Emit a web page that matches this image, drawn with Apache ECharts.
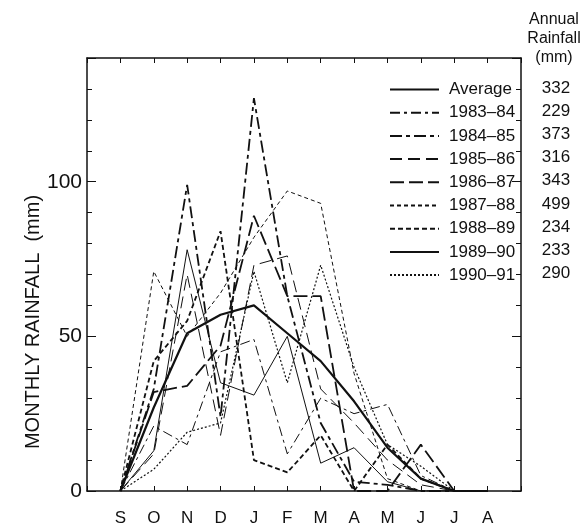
<!DOCTYPE html>
<html>
<head>
<meta charset="utf-8">
<script src="https://cdn.jsdelivr.net/npm/echarts@6/dist/echarts.min.js"></script>
<style>
html,body{margin:0;padding:0;background:#fff;}
#chart{width:587px;height:527px;}
</style>
</head>
<body>
<div id="chart"></div>
<script>
// ---- data ----
var months = ['S','O','N','D','J','F','M','A','M','J','J','A'];
var seriesNames = ['Average','1983\u201384','1984\u201385','1985\u201386','1986\u201387','1987\u201388','1988\u201389','1989\u201390','1990\u201391'];
var annualRainfall = [332, 229, 373, 316, 343, 499, 234, 233, 290];
var average = [0, 27, 51, 57, 60, 51, 42, 29, 14, 4, 0, 0];
var y1983 = [0, 21, 15, 45, 49, 12, 30, 25, 28, 5, 0, 0];
var y1984 = [0, 33, 99, 24, 127, 63, 22, 3, 2, 0, 0, 0];
var y1985 = [0, 12, 70, 18, 73, 76, 33, 22, 10, 2, 0, 0];
var y1986 = [0, 32, 34, 47, 89, 63, 63, 0, 0, 15, 0, 0];
var y1987 = [0, 71, 50, 64, 82, 97, 93, 38, 4, 0, 0, 0];
var y1988 = [0, 42, 55, 84, 10, 6, 18, 0, 15, 4, 0, 0];
var y1989 = [0, 13, 78, 35, 31, 50, 9, 14, 3, 0, 0, 0];
var y1990 = [0, 7, 19, 22, 71, 35, 73, 40, 15, 8, 0, 0];
var yTickLabels = [0, 50, 100];

var allValues = [average, y1983, y1984, y1985, y1986, y1987, y1988, y1989, y1990];
var styles = [
  {type:'solid', width:2.2},
  {type:[10,4,3,4], width:1},
  {type:[12,4,4,4], width:1.8},
  {type:[12,6], width:1},
  {type:[14,5], width:1.8},
  {type:[4,3], width:1},
  {type:[5,3], width:1.8},
  {type:'solid', width:1},
  {type:[2,2], width:1.2}
];

var FONT = '"Liberation Sans", Arial, sans-serif';
var series = allValues.map(function(vals, k){
  return {
    name: seriesNames[k],
    type: 'line',
    symbol: 'none',
    silent: true,
    animation: false,
    lineStyle: {color:'#111', width: styles[k].width, type: styles[k].type},
    itemStyle: {color:'#111'},
    data: vals.map(function(v,i){ return [i+1, v]; })
  };
});

var chart = echarts.init(document.getElementById('chart'), null, {renderer:'canvas'});

var legendTop = 76;
var rowTop = 88;
var rowH = 23.2;
var graphics = [];
graphics.push({
  type:'text', x: 33, y: 322, rotation: Math.PI/2,
  style:{text:'MONTHLY RAINFALL  (mm)', font:'20px '+FONT, fill:'#111', textAlign:'center', textVerticalAlign:'middle'}
});
var headerY = [20, 39, 58];
['Annual','Rainfall','(mm)'].forEach(function(t,i){
  graphics.push({type:'text', x: 554, y: headerY[i],
    style:{text:t, font:'16px '+FONT, fill:'#111', textAlign:'center', textVerticalAlign:'middle'}});
});
annualRainfall.forEach(function(v,i){
  graphics.push({type:'text', x: 556, y: rowTop + i*rowH,
    style:{text:String(v), font:'17px '+FONT, fill:'#111', textAlign:'center', textVerticalAlign:'middle'}});
});

var axisLineStyle = {color:'#111', width:1.5};
function xAx(pos, showLabel){
  return {
    type:'value', min:0, max:13, interval:1, position:pos,
    axisLine:{show:true, onZero:false, lineStyle:axisLineStyle},
    axisTick:{show:true, inside:true, length:5, lineStyle:{color:'#111'}},
    splitLine:{show:false},
    axisLabel: showLabel ? {fontFamily:FONT, fontSize:17, color:'#111', margin:19,
      formatter:function(v){ return (v>=1 && v<=12) ? months[v-1] : ''; }} : {show:false}
  };
}
function yAx(pos, showLabel){
  return {
    type:'value', min:0, max:140, interval:50, position:pos,
    axisLine:{show:true, onZero:false, lineStyle:axisLineStyle},
    axisTick:{show:true, inside:true, length:9, lineStyle:{color:'#111'}},
    minorTick:{show:true, splitNumber:5, length:5, lineStyle:{color:'#111'}},
    splitLine:{show:false},
    axisLabel: showLabel ? {fontFamily:FONT, fontSize:21, color:'#111', margin:5,
      formatter:function(v){ return yTickLabels.indexOf(v)>=0 ? String(v) : ''; }} : {show:false}
  };
}
chart.setOption({
  animation:false,
  backgroundColor:'#fff',
  grid:{left:87, right:66, top:58, bottom:33},
  legend:{
    orient:'vertical', left:384, top:legendTop,
    itemWidth:49, itemHeight:10, itemGap:6.2,
    itemStyle:{color:'rgba(0,0,0,0)', borderWidth:0, opacity:0},
    textStyle:{fontFamily:FONT, fontSize:17, color:'#111', lineHeight:17, padding:[0,0,0,5]},
    data: seriesNames,
    selectedMode:false
  },
  xAxis:[xAx('bottom', true), xAx('top', false)],
  yAxis:[yAx('left', true), yAx('right', false)],
  graphic: graphics,
  series: series
});
</script>
</body>
</html>
